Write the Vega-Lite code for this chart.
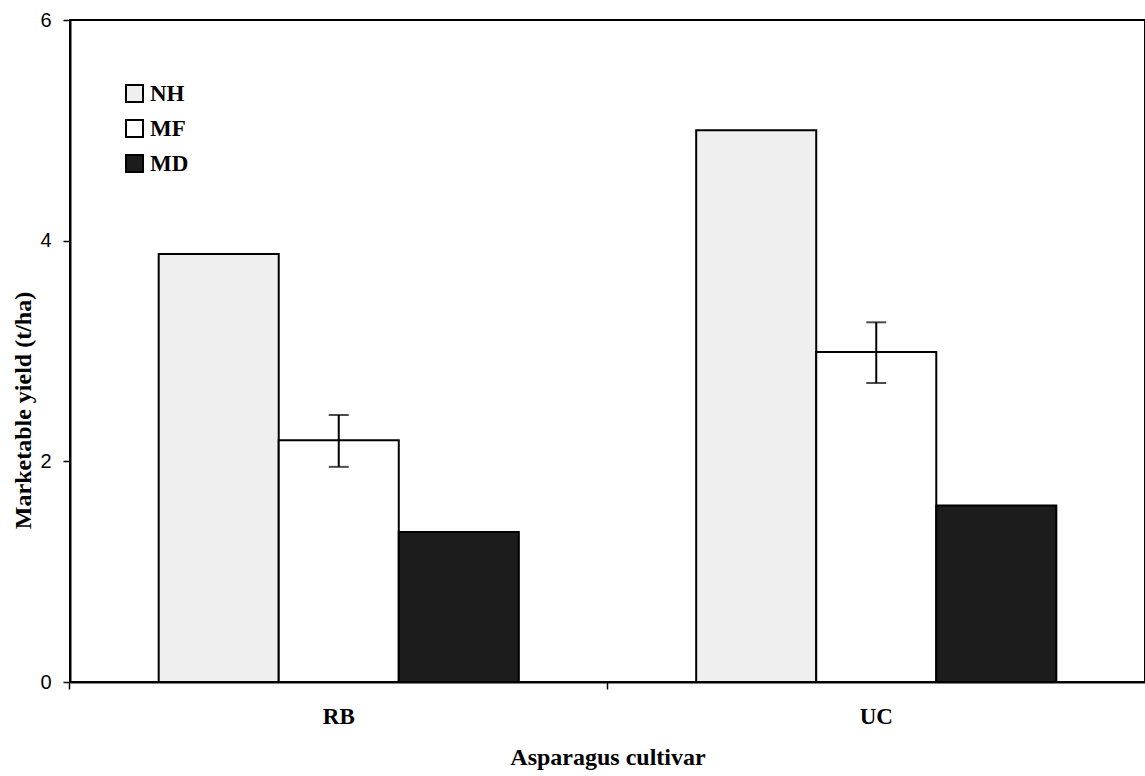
{
  "$schema": "https://vega.github.io/schema/vega-lite/v6.json",
  "width": 1075,
  "height": 662,
  "autosize": {"type": "none"},
  "padding": {"left": 70, "top": 20, "right": 0, "bottom": 94},
  "background": "white",
  "config": {
    "view": {"stroke": "black", "strokeWidth": 2},
    "axis": {"domainColor": "black", "domainWidth": 2, "tickColor": "black", "tickWidth": 1.5, "grid": false, "labelColor": "black", "titleColor": "black"}
  },
  "data": {
    "values": [
      {"cultivar": "RB", "treatment": "NH", "yield": 3.88},
      {"cultivar": "RB", "treatment": "MF", "yield": 2.19, "lo": 1.95, "hi": 2.42},
      {"cultivar": "RB", "treatment": "MD", "yield": 1.36},
      {"cultivar": "UC", "treatment": "NH", "yield": 5.0},
      {"cultivar": "UC", "treatment": "MF", "yield": 2.99, "lo": 2.71, "hi": 3.26},
      {"cultivar": "UC", "treatment": "MD", "yield": 1.6}
    ]
  },
  "encoding": {
    "x": {
      "field": "cultivar",
      "type": "nominal",
      "scale": {"paddingInner": 0.33, "paddingOuter": 0.165},
      "axis": {
        "title": "Asparagus cultivar",
        "labelAngle": 0,
        "labelFont": "Liberation Serif",
        "labelFontWeight": "bold",
        "labelFontSize": 23,
        "labelPadding": 16,
        "labelBaseline": "top",
        "tickSize": 7,
        "bandPosition": -0.2463,
        "titleFont": "Liberation Serif",
        "titleFontWeight": "bold",
        "titleFontSize": 24,
        "titleY": 75,
        "titleBaseline": "middle"
      }
    },
    "xOffset": {"field": "treatment", "type": "nominal", "sort": ["NH", "MF", "MD"]}
  },
  "layer": [
    {
      "mark": {"type": "bar", "stroke": "black", "strokeWidth": 2},
      "encoding": {
        "y": {
          "field": "yield",
          "type": "quantitative",
          "scale": {"domain": [0, 6], "nice": false},
          "axis": {
            "title": "Marketable yield (t/ha)",
            "values": [0, 2, 4, 6],
            "format": "d",
            "labelFont": "Liberation Sans",
            "labelFontSize": 20,
            "labelPadding": 12,
            "tickSize": 7,
            "titleFont": "Liberation Serif",
            "titleFontWeight": "bold",
            "titleFontSize": 24,
            "titleX": -47,
            "titleY": 390,
            "titleAngle": 270,
            "titleBaseline": "middle",
            "titleAlign": "center"
          }
        },
        "fill": {
          "field": "treatment",
          "type": "nominal",
          "sort": ["NH", "MF", "MD"],
          "scale": {"domain": ["NH", "MF", "MD"], "range": ["#efefef", "#ffffff", "#1c1c1c"]},
          "legend": {
            "title": null,
            "orient": "none",
            "legendX": 53,
            "legendY": 62,
            "padding": 0,
            "symbolType": "square",
            "symbolSize": 289,
            "symbolStrokeColor": "black",
            "symbolStrokeWidth": 2,
            "labelFont": "Liberation Serif",
            "labelFontWeight": "bold",
            "labelFontSize": 23,
            "labelColor": "black",
            "labelOffset": 4,
            "rowPadding": 10
          }
        }
      }
    },
    {
      "transform": [{"filter": "isValid(datum.lo)"}],
      "mark": {"type": "rule", "color": "black", "strokeWidth": 2},
      "encoding": {
        "y": {"field": "lo", "type": "quantitative"},
        "y2": {"field": "hi"}
      }
    },
    {
      "transform": [{"filter": "isValid(datum.lo)"}],
      "mark": {"type": "tick", "color": "black", "size": 20, "thickness": 2},
      "encoding": {"y": {"field": "lo", "type": "quantitative"}}
    },
    {
      "transform": [{"filter": "isValid(datum.hi)"}],
      "mark": {"type": "tick", "color": "black", "size": 20, "thickness": 2},
      "encoding": {"y": {"field": "hi", "type": "quantitative"}}
    }
  ]
}
